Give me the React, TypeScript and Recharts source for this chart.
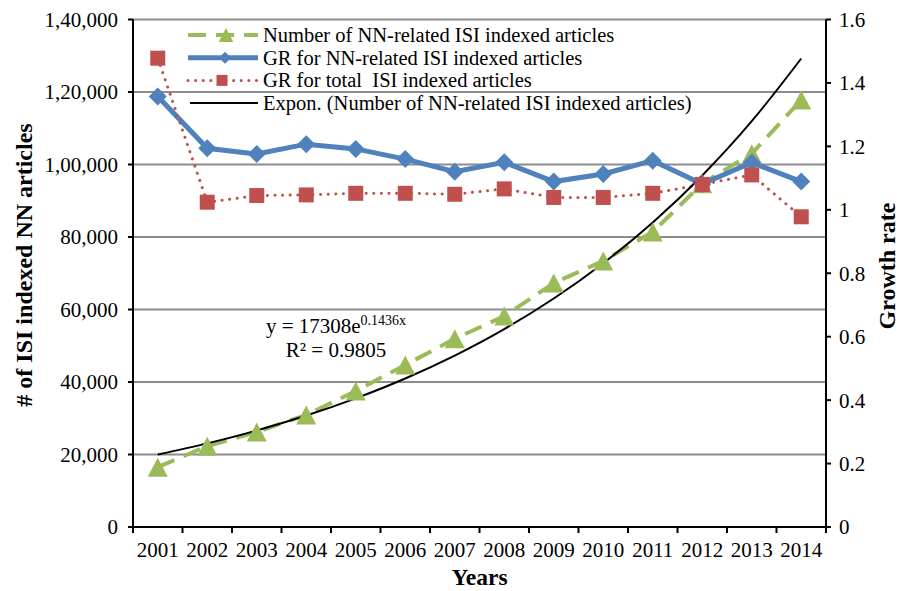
import React from "react";
import { ComposedChart, Line, XAxis, YAxis, CartesianGrid } from "recharts";

const years = ["2001", "2002", "2003", "2004", "2005", "2006", "2007", "2008", "2009", "2010", "2011", "2012", "2013", "2014"];

// NN-related ISI indexed articles per year
const nnArticles = [16500, 22300, 26200, 30900, 37500, 44700, 51900, 58200, 67300, 73400, 81400, 94700, 103000, 117800];

// growth rates (right axis)
const nnGrowth = [1.357, 1.194, 1.176, 1.207, 1.192, 1.16, 1.12, 1.15, 1.089, 1.113, 1.155, 1.081, 1.149, 1.089];
const totalGrowth = [1.478, 1.024, 1.045, 1.047, 1.052, 1.052, 1.049, 1.066, 1.039, 1.039, 1.052, 1.08, 1.11, 0.978];

// exponential trend y = 17308e^(0.1436x), x = 1..14
const expTrend = [19980, 23070, 26630, 30740, 35490, 40970, 47300, 54600, 63030, 72770, 84000, 96980, 111950, 129240];

const articleTicks = [0, 20000, 40000, 60000, 80000, 100000, 120000, 140000];
const rateTicks = [0, 0.2, 0.4, 0.6, 0.8, 1, 1.2, 1.4, 1.6];

const legendItems = [
  "Number of NN-related ISI indexed articles",
  "GR for NN-related ISI indexed articles",
  "GR for total  ISI indexed articles",
  "Expon. (Number of NN-related ISI indexed articles)",
];

const data = years.map((year, i) => ({
  year,
  articles: nnArticles[i],
  grNN: nnGrowth[i],
  grTotal: totalGrowth[i],
  trend: expTrend[i],
}));

const GREEN = "#9BBB59";
const BLUE = "#4F81BD";
const RED = "#C0504D";
const FONT = "'Liberation Serif', 'Times New Roman', serif";
const FS = 21;
const LEGEND_FS = 20.5;

const W = 904;
const H = 591;
const LEFT_W = 133;
const RIGHT_W = 78;
const BAND = (W - LEFT_W - RIGHT_W) / years.length;

// 140000 -> "1,40,000"
function lakhFormat(v: number) {
  const s = String(Math.round(v));
  if (s.length <= 3) return s;
  const last3 = s.slice(-3);
  let rest = s.slice(0, -3);
  const parts: string[] = [];
  while (rest.length > 2) {
    parts.unshift(rest.slice(-2));
    rest = rest.slice(0, -2);
  }
  if (rest) parts.unshift(rest);
  return parts.join(",") + "," + last3;
}

function triangle(cx: number, cy: number, r: number, fill: string, key?: string) {
  return (
    <polygon
      key={key}
      points={`${cx},${cy - r} ${cx + r * 1.05},${cy + r} ${cx - r * 1.05},${cy + r}`}
      fill={fill}
    />
  );
}

function diamond(cx: number, cy: number, r: number, fill: string, key?: string) {
  return (
    <polygon key={key} points={`${cx},${cy - r} ${cx + r},${cy} ${cx},${cy + r} ${cx - r},${cy}`} fill={fill} />
  );
}

function square(cx: number, cy: number, r: number, fill: string, key?: string) {
  return <rect key={key} x={cx - r} y={cy - r} width={r * 2} height={r * 2} fill={fill} />;
}

const TriangleDot = (p: any) => (p.cx == null ? null : triangle(p.cx, p.cy, 9.5, GREEN, `t${p.index}`));
const DiamondDot = (p: any) => (p.cx == null ? null : diamond(p.cx, p.cy, 9, BLUE, `d${p.index}`));
const SquareDot = (p: any) => (p.cx == null ? null : square(p.cx, p.cy, 7.5, RED, `s${p.index}`));

// year label centred in its band, tick marks on the band edges
function YearTick(props: any) {
  const { x, y, payload, index } = props;
  const edge = x - BAND / 2;
  return (
    <g>
      <line x1={edge} x2={edge} y1={y} y2={y + 6} stroke="#000" strokeWidth={2} />
      {index === years.length - 1 && (
        <line x1={x + BAND / 2} x2={x + BAND / 2} y1={y} y2={y + 6} stroke="#000" strokeWidth={2} />
      )}
      <text x={x} y={y + 30} textAnchor="middle" fontSize={FS} fill="#000" fontFamily={FONT}>
        {payload.value}
      </text>
    </g>
  );
}

function LeftTitle(props: any) {
  const { viewBox } = props;
  const cx = viewBox.x + 32;
  const cy = 265;
  return (
    <text
      x={cx}
      y={cy}
      transform={`rotate(-90 ${cx} ${cy})`}
      textAnchor="middle"
      fontSize={24}
      fontWeight="bold"
      fill="#000"
      fontFamily={FONT}
    >
      # of ISI indexed NN articles
    </text>
  );
}

function RightTitle(props: any) {
  const { viewBox } = props;
  const cx = viewBox.x + 69;
  const cy = 266;
  return (
    <text
      x={cx}
      y={cy}
      transform={`rotate(-90 ${cx} ${cy})`}
      textAnchor="middle"
      fontSize={24}
      fontWeight="bold"
      fill="#000"
      fontFamily={FONT}
    >
      Growth rate
    </text>
  );
}

function BottomTitle(props: any) {
  const { viewBox } = props;
  return (
    <text
      x={viewBox.x + viewBox.width / 2}
      y={585}
      textAnchor="middle"
      fontSize={23.5}
      fontWeight="bold"
      fill="#000"
      fontFamily={FONT}
    >
      Years
    </text>
  );
}

function LegendAndNote() {
  const baselines = [42, 64.7, 87.4, 110.1];
  const x0 = 188;
  const x1 = 258;
  return (
    <svg width={W} height={H} style={{ position: "absolute", left: 0, top: 0, pointerEvents: "none" }}>
      {/* legend samples */}
      <line x1={x0} x2={x1} y1={baselines[0] - 7} y2={baselines[0] - 7} stroke={GREEN} strokeWidth={4} strokeDasharray="18 10" />
      {triangle(226, baselines[0] - 7, 7, GREEN)}
      <line x1={x0} x2={x1} y1={baselines[1] - 7} y2={baselines[1] - 7} stroke={BLUE} strokeWidth={5} />
      {diamond(225, baselines[1] - 7, 6, BLUE)}
      <line
        x1={x0}
        x2={x1}
        y1={baselines[2] - 7}
        y2={baselines[2] - 7}
        stroke={RED}
        strokeWidth={3}
        strokeDasharray="0.1 7.5"
        strokeLinecap="round"
      />
      {square(222, baselines[2] - 7, 5.5, RED)}
      <line x1={x0 + 2} x2={x1} y1={baselines[3] - 7} y2={baselines[3] - 7} stroke="#000" strokeWidth={2} />
      {legendItems.map((label, i) => (
        <text
          key={label}
          x={263}
          y={baselines[i]}
          fontSize={LEGEND_FS}
          fill="#000"
          fontFamily={FONT}
          style={{ whiteSpace: "pre" }}
        >
          {label}
        </text>
      ))}

      {/* trendline equation */}
      <text x={336} y={333} textAnchor="middle" fontSize={FS} fill="#000" fontFamily={FONT}>
        y = 17308e
        <tspan fontSize={14} dy={-8}>
          0.1436x
        </tspan>
      </text>
      <text x={336} y={357} textAnchor="middle" fontSize={FS} fill="#000" fontFamily={FONT}>
        R² = 0.9805
      </text>
    </svg>
  );
}

export default function App() {
  return (
    <div style={{ position: "absolute", left: 0, top: 0, width: W, height: H, background: "#fff", fontFamily: FONT }}>
      <ComposedChart width={W} height={H} data={data} margin={{ top: 19.5, right: 0, bottom: 0, left: 0 }}>
        <CartesianGrid horizontal vertical={false} stroke="#8C8C8C" strokeWidth={2} />
        <XAxis
          dataKey="year"
          scale="band"
          interval={0}
          height={64}
          tickLine={false}
          tickSize={0}
          tickMargin={0}
          axisLine={{ stroke: "#000", strokeWidth: 2 }}
          tick={<YearTick />}
          label={<BottomTitle />}
        />
        <YAxis
          domain={[0, 140000]}
          ticks={articleTicks}
          tickFormatter={lakhFormat}
          width={LEFT_W}
          tickSize={5}
          tickMargin={10}
          axisLine={{ stroke: "#000", strokeWidth: 2 }}
          tickLine={{ stroke: "#000", strokeWidth: 2 }}
          tick={{ fill: "#000", fontSize: FS, fontFamily: FONT }}
          label={<LeftTitle />}
        />
        <YAxis
          yAxisId="rate"
          orientation="right"
          domain={[0, 1.6]}
          ticks={rateTicks}
          tickFormatter={(v: number) => String(Number(v.toFixed(1)))}
          width={RIGHT_W}
          tickSize={5}
          tickMargin={8}
          axisLine={{ stroke: "#000", strokeWidth: 2 }}
          tickLine={{ stroke: "#000", strokeWidth: 2 }}
          tick={{ fill: "#000", fontSize: FS, fontFamily: FONT }}
          label={<RightTitle />}
        />
        <Line
          dataKey="articles"
          type="linear"
          stroke={GREEN}
          strokeWidth={4}
          strokeDasharray="18 10"
          dot={TriangleDot}
          activeDot={false}
          isAnimationActive={false}
        />
        <Line
          yAxisId="rate"
          dataKey="grNN"
          type="linear"
          stroke={BLUE}
          strokeWidth={5}
          dot={DiamondDot}
          activeDot={false}
          isAnimationActive={false}
        />
        <Line
          yAxisId="rate"
          dataKey="grTotal"
          type="linear"
          stroke={RED}
          strokeWidth={3}
          strokeDasharray="0.1 7.5"
          strokeLinecap="round"
          dot={SquareDot}
          activeDot={false}
          isAnimationActive={false}
        />
        <Line
          dataKey="trend"
          type="monotone"
          stroke="#000"
          strokeWidth={2}
          dot={false}
          activeDot={false}
          isAnimationActive={false}
        />
      </ComposedChart>
      <LegendAndNote />
    </div>
  );
}
